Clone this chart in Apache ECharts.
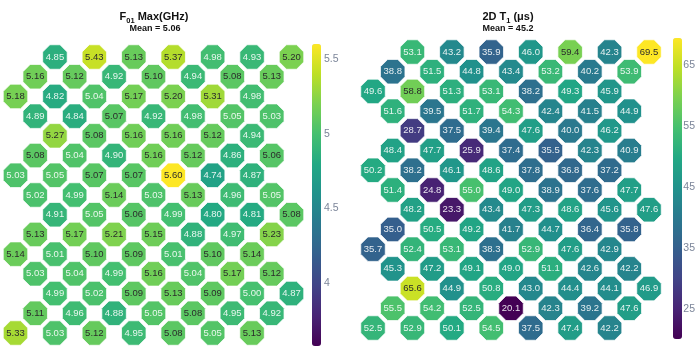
<!DOCTYPE html>
<html><head><meta charset="utf-8">
<script src="https://cdn.jsdelivr.net/npm/echarts@6/dist/echarts.min.js"></script>
<style>html,body{margin:0;padding:0;background:#fff}#c{width:698px;height:353px}</style>
</head><body><div id="c"></div>
<script>
// ---- data ----
const rowStartCol = [2,1,0,1,2,1,0,1,2,1,0,1,2,1,0];
const f01Rows = [
 [4.85,5.43,5.13,5.37,4.98,4.93,5.20],
 [5.16,5.12,4.92,5.10,4.94,5.08,5.13],
 [5.18,4.82,5.04,5.17,5.20,5.31,4.98],
 [4.89,4.84,5.07,4.92,4.98,5.05,5.03],
 [5.27,5.08,5.16,5.16,5.12,4.94],
 [5.08,5.04,4.90,5.16,5.12,4.86,5.06],
 [5.03,5.05,5.07,5.07,5.60,4.74,4.87],
 [5.02,4.99,5.14,5.03,5.13,4.96,5.05],
 [4.91,5.05,5.06,4.99,4.80,4.81,5.08],
 [5.13,5.17,5.21,5.15,4.88,4.97,5.23],
 [5.14,5.01,5.10,5.09,5.01,5.10,5.14],
 [5.03,5.04,4.99,5.16,5.04,5.17,5.12],
 [4.99,5.02,5.09,5.13,5.09,5.00,4.87],
 [5.11,4.96,4.88,5.05,5.08,4.95,4.92],
 [5.33,5.03,5.12,4.95,5.08,5.05,5.13]
];
const t1Rows = [
 [53.1,43.2,35.9,46.0,59.4,42.3,69.5],
 [38.8,51.5,44.8,43.4,53.2,40.2,53.9],
 [49.6,58.8,51.3,53.1,38.2,49.3,45.9],
 [51.6,39.5,51.7,54.3,42.4,41.5,44.9],
 [28.7,37.5,39.4,47.6,40.0,46.2],
 [48.4,47.7,25.9,37.4,35.5,42.3,40.9],
 [50.2,38.2,46.1,48.6,37.8,36.8,37.2],
 [51.4,24.8,55.0,49.0,38.9,37.6,47.7],
 [48.2,23.3,43.4,47.3,48.6,45.6,47.6],
 [35.0,50.5,49.2,41.7,44.7,36.4,35.8],
 [35.7,52.4,53.1,38.3,52.9,47.6,42.9],
 [45.3,47.2,49.1,49.0,51.1,42.6,42.2],
 [65.6,44.9,50.8,43.0,44.4,44.1,46.9],
 [55.5,54.2,52.5,20.1,42.3,39.2,47.6],
 [52.5,52.9,50.1,54.5,37.5,47.4,42.2]
];
const f01Range = [3.58, 5.60];
const t1Range = [20.1, 69.5];
const f01Ticks = [4, 4.5, 5, 5.5];
const t1Ticks = [25, 35, 45, 55, 65];
const f01Mean = '5.06';
const t1Mean = '45.2';

// ---- styling ----
const viridis = ['#440154','#482475','#414487','#355f8d','#2a788e','#21918c','#22a884','#44bf70','#7ad151','#bddf26','#fde725'];
const octagon = 'path://M0.2929,0 L0.7071,0 L1,0.2929 L1,0.7071 L0.7071,1 L0.2929,1 L0,0.7071 L0,0.2929 Z';
const FONT = '"Liberation Sans", Arial, sans-serif';

function build(rows, range) {
  const out = [];
  rows.forEach((row, r) => {
    row.forEach((v, i) => {
      const frac = (v - range[0]) / (range[1] - range[0]);
      out.push({
        value: [rowStartCol[r] + 2 * i, r, v],
        label: { color: frac >= 0.73 ? '#2b2b2b' : 'rgba(255,255,255,0.88)' }
      });
    });
  });
  return out;
}

const grids = [
  { left: 15.5, top: 57, width: 276, height: 276 },
  { left: 373, top: 52, width: 276, height: 276 },
  { left: 312, top: 44, width: 9, height: 302 },
  { left: 673, top: 38, width: 9, height: 301 }
];

function mapAxes(gi) {
  return {
    x: { gridIndex: gi, type: 'value', min: 0, max: 14, show: false },
    y: { gridIndex: gi, type: 'value', min: 0, max: 14, inverse: true, show: false }
  };
}
function barAxes(gi, range, ticks) {
  return {
    x: { gridIndex: gi, type: 'value', show: false },
    y: { gridIndex: gi, type: 'value', min: range[0], max: range[1], position: 'right',
         axisLine: { show: false }, axisTick: { show: false }, splitLine: { show: false },
         axisLabel: { customValues: ticks, margin: 3, color: '#7b8599', fontSize: 10.5, fontFamily: FONT } }
  };
}
const a0 = mapAxes(0), a1 = mapAxes(1), a2 = barAxes(2, f01Range, f01Ticks), a3 = barAxes(3, t1Range, t1Ticks);

function scatter(gi, data, digits) {
  return {
    type: 'scatter', xAxisIndex: gi, yAxisIndex: gi, data: data,
    symbol: octagon, symbolSize: 24.5, animation: false,
    itemStyle: { opacity: 1, borderColor: 'rgba(255,255,255,0.75)', borderWidth: 1 },
    label: { show: true, position: 'inside', fontSize: 9.5, fontFamily: FONT,
             formatter: p => p.value[2].toFixed(digits) },
    emphasis: { disabled: true }
  };
}

function titleText(x, y, text, rich) {
  return { type: 'text', x: x, y: y, style: { text: text, rich: rich, align: 'center', verticalAlign: 'middle', fill: '#111' } };
}
const richT = {
  b: { fontSize: 11, fontWeight: 'bold', fontFamily: FONT, lineHeight: 16, verticalAlign: 'middle', color: '#111' },
  s: { fontSize: 7.5, fontWeight: 'bold', fontFamily: FONT, lineHeight: 8, verticalAlign: 'bottom', color: '#111' }
};
const richM = { m: { fontSize: 9, fontWeight: 'bold', fontFamily: FONT, color: '#111' } };

const chart = echarts.init(document.getElementById('c'), null, { renderer: 'canvas' });
chart.setOption({
  animation: false,
  textStyle: { fontFamily: FONT },
  grid: grids,
  xAxis: [a0.x, a1.x, a2.x, a3.x],
  yAxis: [a0.y, a1.y, a2.y, a3.y],
  visualMap: [
    { type: 'continuous', seriesIndex: 0, dimension: 2, min: f01Range[0], max: f01Range[1],
      inRange: { color: viridis }, left: 312, top: 44, itemWidth: 9, itemHeight: 302, padding: 0,
      calculable: false, hoverLink: false, text: null },
    { type: 'continuous', seriesIndex: 1, dimension: 2, min: t1Range[0], max: t1Range[1],
      inRange: { color: viridis }, left: 673, top: 38, itemWidth: 9, itemHeight: 301, padding: 0,
      calculable: false, hoverLink: false, text: null }
  ],
  graphic: [
    titleText(154, 17, '{b|F}{s|01}{b| Max(GHz)}', richT),
    titleText(155, 29, '{m|Mean = ' + f01Mean + '}', richM),
    titleText(508, 17, '{b|2D T}{s|1}{b| (μs)}', richT),
    titleText(508, 29, '{m|Mean = ' + t1Mean + '}', richM)
  ],
  series: [
    scatter(0, build(f01Rows, f01Range), 2),
    scatter(1, build(t1Rows, t1Range), 1)
  ]
});
</script>
</body></html>
